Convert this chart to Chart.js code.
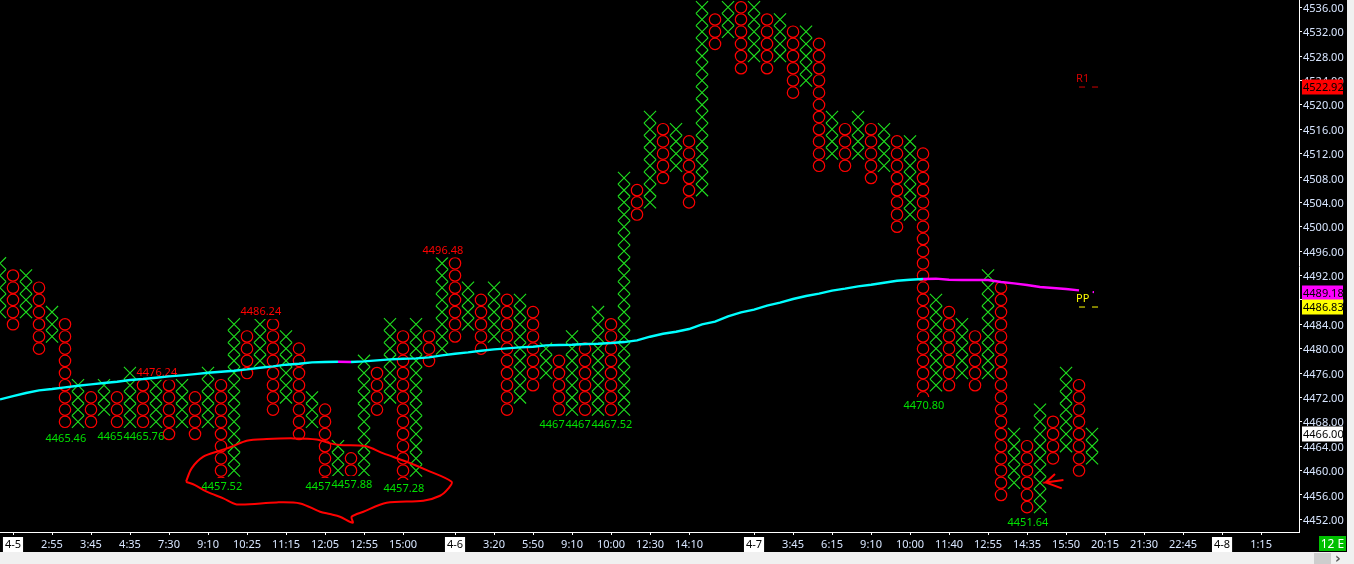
<!DOCTYPE html>
<html><head><meta charset="utf-8">
<script src="https://cdn.jsdelivr.net/npm/chart.js@4"></script>
<style>
html,body{margin:0;padding:0;width:1354px;height:564px;overflow:hidden;background:#f0f0f0}
#wrap{position:absolute;left:0;top:0;width:1347px;height:552px;background:#000}
#ce{position:absolute;left:1319px;top:536px;width:27px;height:15px;background:#00c000;color:#fff;font:12px "Noto Sans",sans-serif;line-height:15px;text-align:center}
#thumb{position:absolute;left:1314px;top:553px;width:17px;height:11px;background:#cdcdcd}
#arr{position:absolute;left:1335px;top:550px;width:10px;font:bold 14px "DejaVu Sans",sans-serif;color:#555;line-height:16px}
</style></head><body>
<div id="wrap"><canvas id="c" width="1347" height="552"></canvas></div>
<div id="ce">12 E</div><div id="thumb"></div><div id="arr">›</div>
<script>
// Point-and-figure columns: even index = X column, odd index = O column
const colHigh=[4494,4492,4492,4490,4486,4484,4474,4472,4474,4472,4476,4474,4474,4474,4474,4472,4476,4474,4484,4482,4484,4484,4482,4480,4472,4470,4464,4462,4478,4476,4484,4482,4484,4482,4494,4494,4490,4488,4490,4488,4488,4486,4480,4478,4482,4480,4486,4484,4508,4506,4518,4516,4516,4514,4536,4534,4536,4536,4536,4534,4534,4532,4532,4530,4518,4516,4518,4516,4516,4514,4514,4512,4488,4486,4484,4482,4492,4490,4466,4464,4470,4468,4476,4474,4466];
const colLow =[4486,4484,4486,4480,4482,4468,4468,4468,4470,4468,4468,4468,4468,4466,4468,4466,4468,4458,4460,4476,4478,4470,4472,4466,4468,4458,4460,4460,4460,4470,4472,4458,4460,4478,4480,4482,4484,4480,4482,4470,4472,4474,4476,4470,4470,4468,4470,4468,4470,4502,4504,4508,4510,4504,4506,4530,4532,4526,4528,4526,4528,4522,4524,4510,4512,4510,4512,4508,4510,4500,4502,4472,4474,4474,4476,4474,4476,4456,4458,4454,4454,4462,4464,4460,4462];
// Moving average, one reading per column
const maValues=[4471.68,4472.22,4472.72,4473.15,4473.37,4473.65,4473.92,4474.14,4474.36,4474.58,4474.85,4475.01,4475.23,4475.45,4475.62,4475.83,4476.05,4476.22,4476.38,4476.60,4476.87,4477.09,4477.37,4477.53,4477.75,4477.80,4477.86,4477.80,4477.91,4478.08,4478.24,4478.35,4478.40,4478.57,4478.90,4479.17,4479.39,4479.66,4479.88,4480.05,4480.21,4480.32,4480.54,4480.59,4480.65,4480.76,4480.81,4480.92,4481.08,4481.36,4481.96,4482.45,4482.78,4483.22,4483.99,4484.42,4485.30,4485.95,4486.39,4487.05,4487.54,4488.14,4488.63,4489.02,4489.51,4489.84,4490.22,4490.49,4490.82,4491.15,4491.31,4491.42,4491.48,4491.31,4491.26,4491.26,4491.26,4490.93,4490.71,4490.44,4490.11,4489.95,4489.78,4489.56];
const maMagenta=[26,71,72,73,74,75,76,77,78,79,80,81,82];
const maStubCol=84.1;
const maStubPrices=[4489.42,4489.12];
// Tick labels
const yTicks=[4452,4456,4460,4464,4468,4472,4476,4480,4484,4488,4492,4496,4500,4504,4508,4512,4516,4520,4524,4528,4532,4536];
const xTickCols=[1,4,7,10,13,16,19,22,25,28,31,35,38,41,44,47,50,53,58,61,64,67,70,73,76,79,82,85,88,91,94,97];
const xTickText=["4-5","2:55","3:45","4:35","7:30","9:10","10:25","11:15","12:05","12:55","15:00","4-6","3:20","5:50","9:10","10:00","12:30","14:10","4-7","3:45","6:15","9:10","10:00","11:40","12:55","14:35","15:50","20:15","21:30","22:45","4-8","1:15"];
// Reversal price labels
const noteText=["4465.46","4465","4465.76","4457.52","4457","4457.88","4457.28","4467","4467","4467.52","4470.80","4451.64","4476.24","4486.24","4496.48"];
const noteCol=[5,9,11,17,25,27,31,43,45,47,71,79,12,20,34];
const notePrice=[4465.34,4465.67,4465.67,4457.46,4457.46,4457.79,4457.13,4467.63,4467.63,4467.63,4470.75,4451.56,4476.2,4486.17,4496.29];
const noteIsHigh=[0,0,0,0,0,0,0,0,0,0,0,0,1,1,1];
// Pivot levels
const pivotNames=["R1","PP"];
const pivotPrices=[4522.92,4486.83];
const pivotColors=["#d00000","#ffff00"];
const pivotFromCol=83;
const pivotToCol=84.5;
// Price boxes on the axis
const boxValues=[4522.92,4489.18,4486.83,4466.00];
const boxText=["4522.92","4489.18","4486.83","4466.00"];
const boxColors=["#ff0000","#ff00ff","#ffff00","#ffffff"];
// Hand-drawn annotations
const loopCols=[14.31,14.74,15.64,16.92,17.95,18.97,20.51,22.56,24.36,25.38,26.15,28.08,29.49,31.28,32.82,34.74,34.49,33.85,32.56,29.74,27.95,27.05,27.13,26.15,25.38,24.62,23.08,21.28,18.21,17.18,15.90,15.0,14.31];
const loopPrices=[4458.17,4460.36,4462.27,4463.26,4464.02,4464.90,4465.17,4465.28,4465.11,4464.46,4464.19,4464.02,4462.82,4461.45,4460.08,4458.17,4457.07,4455.87,4455.05,4454.72,4453.25,4452.43,4451.44,4452.43,4452.86,4453.25,4454.61,4454.78,4454.45,4455.43,4456.53,4457.62,4458.17];
const arrowCols=[81.15,80.44,81.8,80.44,81.67];
const arrowPrices=[4459.43,4458.06,4458.45,4458.06,4457.08];

const FONT='"Noto Sans", sans-serif';
const xs=[],os=[];
colHigh.forEach((h,i)=>{for(let v=h;v>=colLow[i];v-=2){(i%2?os:xs).push({x:i,y:v});}});
const zip=(a,b)=>a.map((v,i)=>({x:v,y:b[i]}));
const maPts=maValues.map((v,i)=>({x:i,y:v}));
const datasets=[
 {label:'loop',data:zip(loopCols,loopPrices),showLine:true,borderColor:'#ff0000',borderWidth:2,tension:0.3,pointRadius:0,order:0},
 {label:'arrow',data:zip(arrowCols,arrowPrices),showLine:true,borderColor:'#ff0000',borderWidth:2,pointRadius:0,order:0},
 {label:'ma',data:maPts,showLine:true,borderColor:'#00ffff',borderWidth:2.4,pointRadius:0,order:1,
  segment:{borderColor:c=>maMagenta.includes(c.p0DataIndex)?'#ff00ff':'#00ffff'}},
 {label:'maStub',data:maStubPrices.map(v=>({x:maStubCol,y:v})),showLine:true,borderColor:'#ff00ff',borderWidth:1,pointRadius:0,order:1},
 {label:'R1',data:[{x:pivotFromCol,y:pivotPrices[0]},{x:pivotToCol,y:pivotPrices[0]}],showLine:true,borderColor:pivotColors[0],borderWidth:1,borderDash:[6,7],pointRadius:0,order:2},
 {label:'PP',data:[{x:pivotFromCol,y:pivotPrices[1]},{x:pivotToCol,y:pivotPrices[1]}],showLine:true,borderColor:pivotColors[1],borderWidth:1,borderDash:[6,7],pointRadius:0,order:2},
 {label:'X',data:xs,pointStyle:'crossRot',pointRadius:8.6,pointBorderColor:'#1fe01f',pointBorderWidth:1.1,showLine:false,order:4},
 {label:'O',data:os,pointStyle:'circle',pointRadius:5.7,pointBackgroundColor:'rgba(0,0,0,0)',pointBorderColor:'#ff0000',pointBorderWidth:1.2,showLine:false,order:3}
];
const notesPlugin={id:'notes',
 beforeDatasetDraw(chart,args){
  if(chart.data.datasets[args.index].label!=='ma')return;
  const {ctx,scales:{x,y}}=chart;
  ctx.save();ctx.font='11px '+FONT;ctx.textBaseline='middle';ctx.textAlign='left';
  noteText.forEach((t,i)=>{
   const px=x.getPixelForValue(noteCol[i]),py=y.getPixelForValue(notePrice[i]);
   ctx.fillStyle='#000';ctx.fillRect(px-19.5,py-8,39,16);
   ctx.fillStyle=noteIsHigh[i]?'#ff0000':'#00e000';ctx.fillText(t,px-19.5,py+1);
  });
  pivotNames.forEach((t,i)=>{
   const px=x.getPixelForValue(pivotFromCol),py=y.getPixelForValue(pivotPrices[i]);
   ctx.fillStyle=pivotColors[i];ctx.fillText(t,px-3,py-8);
  });
  ctx.restore();
 },
 afterDraw(chart){
  const {ctx,scales:{y}}=chart;
  ctx.save();ctx.font='11px '+FONT;ctx.textBaseline='middle';ctx.textAlign='left';
  boxValues.forEach((v,i)=>{
   const py=Math.round(y.getPixelForValue(v));
   ctx.fillStyle=boxColors[i];ctx.fillRect(1302,py-7.5,41,15);
   ctx.fillStyle='#000';ctx.fillText(boxText[i],1303,py+1);
  });
  ctx.restore();
 }
};
const isDate=v=>{const t=xTickText[xTickCols.indexOf(v)];return t&&t.includes('-');};
const noPad=s=>{s.paddingLeft=0;s.paddingRight=0;s.paddingTop=0;s.paddingBottom=0;};
new Chart(document.getElementById('c'),{
 type:'scatter',
 data:{datasets},
 plugins:[notesPlugin],
 options:{responsive:false,animation:false,layout:{padding:0,autoPadding:false},
  plugins:{legend:{display:false},tooltip:{enabled:false},title:{display:false}},
  scales:{
   x:{type:'linear',min:0,max:99.92,
    afterFit(s){s.height=20;noPad(s);},
    afterBuildTicks(s){s.ticks=xTickCols.map(v=>({value:v}));},
    border:{color:'#fff',width:1},
    grid:{drawOnChartArea:false,drawTicks:true,tickLength:3,tickColor:'#fff'},
    ticks:{autoSkip:false,maxRotation:0,padding:3,font:{family:FONT,size:11},
     callback:v=>xTickText[xTickCols.indexOf(v)],
     color:c=>isDate(c.tick.value)?'#000':'#d8e6ff',
     showLabelBackdrop:c=>isDate(c.tick.value),
     backdropColor:'#fff',backdropPadding:{left:2,right:2,top:1,bottom:1}}},
   y:{type:'linear',position:'right',min:4449.92,max:4537.2,
    afterFit(s){s.width=48;noPad(s);},
    afterBuildTicks(s){s.ticks=yTicks.map(v=>({value:v}));},
    border:{color:'#fff',width:1},
    grid:{drawOnChartArea:false,drawTicks:true,tickLength:3,tickColor:'#fff'},
    ticks:{autoSkip:false,padding:1,labelOffset:1.5,font:{family:FONT,size:11},color:'#d8e6ff',
     callback:v=>v.toFixed(2)}}
  }}
});
</script>
</body></html>
